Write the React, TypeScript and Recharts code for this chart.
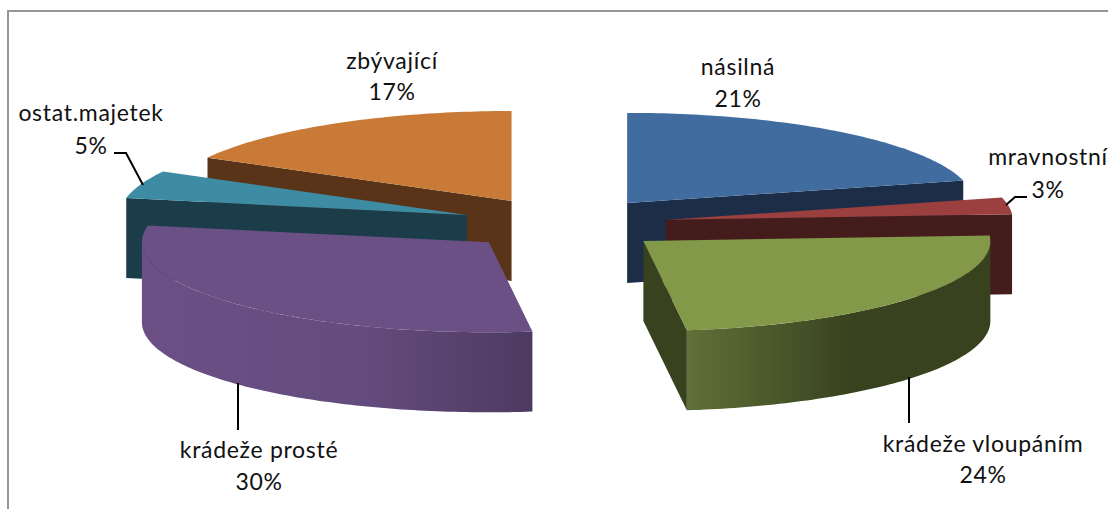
import React from "react";
import { PieChart, Pie } from "recharts";

// Data (percent shares), split into right-hand and left-hand halves so that paint order matches
const rightNames = ["násilná", "mravnostní", "krádeže vloupáním"];
const rightValues = [21, 3, 24];
const leftNames = ["zbývající", "ostat.majetek", "krádeže prosté"];
const leftValues = [17, 5, 30];

const rightData = rightNames.map((name, i) => ({ name, value: rightValues[i] }));
const leftData = leftNames.map((name, i) => ({ name, value: leftValues[i] }));

// Styling
const W = 1108, H = 509, CX = 564, CY = 224, R = 347, SQUASH = 0.2594, DEPTH = 80, EXPLODE = 103;
const FONT = "Lato, Carlito, sans-serif";
const TOTAL = 100;
const RIGHT_SWEEP = (48 / TOTAL) * 360;
const LEFT_SWEEP = (52 / TOTAL) * 360;

type Look = { top: string; cut: string; wall: [string, string, string] };
const LOOK: Record<string, Look> = {
  "násilná": { top: "#416c9f", cut: "#1b2d47", wall: ["#1b2d47", "#1b2d47", "#1b2d47"] },
  "mravnostní": { top: "#9c3f3f", cut: "#451c1c", wall: ["#451c1c", "#451c1c", "#451c1c"] },
  "krádeže vloupáním": { top: "#83994a", cut: "#38421f", wall: ["#5f7038", "#38421f", "#38421f"] },
  "zbývající": { top: "#c97a37", cut: "#5a3418", wall: ["#5a3418", "#5a3418", "#5a3418"] },
  "ostat.majetek": { top: "#3d8ca4", cut: "#1b3d4a", wall: ["#1b3d4a", "#1b3d4a", "#1b3d4a"] },
  "krádeže prosté": { top: "#6a5085", cut: "#38421f", wall: ["#6a5085", "#654c7f", "#4d3a60"] },
};

type LabelLayout = { x: number; y1: number; y2: number; leader: string };
const LABELS: Record<string, LabelLayout> = {
  "násilná": { x: 738, y1: 75, y2: 107, leader: "" },
  "mravnostní": { x: 1048, y1: 165, y2: 198, leader: "1027,197 1015,197 1006,205" },
  "krádeže vloupáním": { x: 983, y1: 452, y2: 483, leader: "909,377 909,423" },
  "zbývající": { x: 392, y1: 69, y2: 100, leader: "" },
  "ostat.majetek": { x: 91, y1: 121, y2: 154, leader: "114,153 126,153 143,185" },
  "krádeže prosté": { x: 259, y1: 458, y2: 490, leader: "238,383 238,430" },
};

const rad = (d: number) => (d * Math.PI) / 180;

function Slice3D(props: any) {
  const { cx, cy, outerRadius, startAngle, endAngle, name, payload } = props;
  const label = name ?? payload?.name;
  const look = LOOK[label];
  let a = 90 - Math.max(startAngle, endAngle);
  let b = 90 - Math.min(startAngle, endAngle);
  if (a < 0) { a += 360; b += 360; }
  const mid = (a + b) / 2;
  const ax = cx + EXPLODE * Math.sin(rad(mid));
  const ay = cy - EXPLODE * SQUASH * Math.cos(rad(mid));
  const pt = (t: number) => [
    ax + outerRadius * Math.sin(rad(t)),
    ay - outerRadius * SQUASH * Math.cos(rad(t)),
  ];
  const arc = (from: number, to: number, dy: number) => {
    const out: string[] = [];
    const n = Math.max(2, Math.ceil(Math.abs(to - from)));
    for (let i = 0; i <= n; i++) {
      const [x, y] = pt(from + ((to - from) * i) / n);
      out.push(`${x.toFixed(2)},${(y + dy).toFixed(2)}`);
    }
    return out;
  };
  const cutFace = (t: number) => {
    const [x, y] = pt(t);
    return `${ax},${ay} ${x},${y} ${x},${y + DEPTH} ${ax},${ay + DEPTH}`;
  };
  const wallFrom = Math.max(a, 90);
  const wallTo = Math.min(b, 270);
  const hasWall = wallTo > wallFrom;
  const gradId = `wall-${Math.round(a)}`;
  const [x0] = pt(wallFrom);
  const [x1] = pt(wallTo);
  const wallPts = hasWall ? [...arc(wallFrom, wallTo, 0), ...arc(wallTo, wallFrom, DEPTH)].join(" ") : "";
  const topPts = [`${ax},${ay}`, ...arc(a, b, 0)].join(" ");
  return (
    <g>
      {hasWall && (
        <defs>
          <linearGradient id={gradId} gradientUnits="userSpaceOnUse" x1={Math.min(x0, x1)} x2={Math.max(x0, x1)} y1={0} y2={0}>
            <stop offset="0" stopColor={look.wall[0]} />
            <stop offset="0.55" stopColor={look.wall[1]} />
            <stop offset="1" stopColor={look.wall[2]} />
          </linearGradient>
        </defs>
      )}
      {Math.sin(rad(a)) < -1e-6 && <polygon points={cutFace(a)} fill={look.cut} />}
      {Math.sin(rad(b)) > 1e-6 && <polygon points={cutFace(b)} fill={look.cut} />}
      {hasWall && <polygon points={wallPts} fill={`url(#${gradId})`} />}
      <polygon points={topPts} fill={look.top} />
    </g>
  );
}

function SliceLabel(props: any) {
  const { name, value } = props;
  const l = LABELS[name];
  if (!l) return null;
  const textStyle = { fontFamily: FONT, fontSize: 23, letterSpacing: 0.7, fill: "#111" };
  return (
    <g>
      {l.leader && <polyline points={l.leader} fill="none" stroke="#000" strokeWidth={2} />}
      <text x={l.x} y={l.y1} textAnchor="middle" style={textStyle}>{name}</text>
      <text x={l.x} y={l.y2} textAnchor="middle" style={textStyle}>{`${value}%`}</text>
    </g>
  );
}

export default function App() {
  return (
    <div style={{ position: "absolute", left: 0, top: 0, width: W, height: H, background: "#fff", overflow: "hidden" }}>
      <div style={{ position: "absolute", left: 7, top: 10, width: W, height: H, borderLeft: "2px solid #969696", borderTop: "2px solid #969696" }} />
      <div style={{ position: "absolute", left: 0, top: 0 }}>
        <PieChart width={W} height={H} margin={{ top: 0, right: 0, bottom: 0, left: 0 }}>
          <Pie
            data={leftData}
            dataKey="value"
            nameKey="name"
            cx={CX}
            cy={CY}
            outerRadius={R}
            startAngle={90}
            endAngle={90 + LEFT_SWEEP}
            stroke="none"
            isAnimationActive={false}
            shape={Slice3D}
            label={SliceLabel}
            labelLine={false}
          />
          <Pie
            data={rightData}
            dataKey="value"
            nameKey="name"
            cx={CX}
            cy={CY}
            outerRadius={R}
            startAngle={90}
            endAngle={90 - RIGHT_SWEEP}
            stroke="none"
            isAnimationActive={false}
            shape={Slice3D}
            label={SliceLabel}
            labelLine={false}
          />
        </PieChart>
      </div>
    </div>
  );
}
